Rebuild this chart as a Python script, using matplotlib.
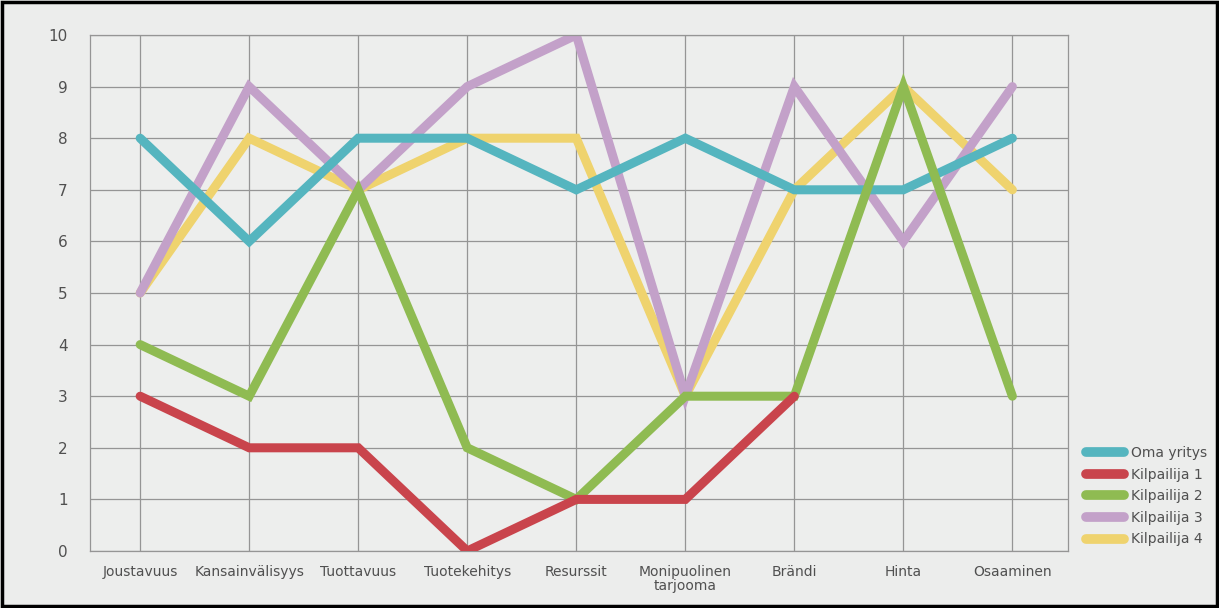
import numpy as np
import matplotlib.pyplot as plt
from matplotlib.patches import Rectangle

kategoriat = ["Joustavuus", "Kansainvälisyys", "Tuottavuus", "Tuotekehitys",
              "Resurssit", "Monipuolinen\ntarjooma", "Brändi", "Hinta", "Osaaminen"]

oma_yritys = [8, 6, 8, 8, 7, 8, 7, 7, 8]
kilpailija_1 = [3, 2, 2, 0, 1, 1, 3, np.nan, np.nan]
kilpailija_2 = [4, 3, 7, 2, 1, 3, 3, 9, 3]
kilpailija_3 = [5, 9, 7, 9, 10, 3, 9, 6, 9]
kilpailija_4 = [5, 8, 7, 8, 8, 3, 7, 9, 7]

nimet = ["Oma yritys", "Kilpailija 1", "Kilpailija 2", "Kilpailija 3", "Kilpailija 4"]
varit = ["#55b5bf", "#c9444c", "#8fbb52", "#c3a1c9", "#efd36e"]
sarjat = [oma_yritys, kilpailija_1, kilpailija_2, kilpailija_3, kilpailija_4]
# piirtojarjestys: keltainen alimpana, punainen ylimpana
jarjestys = {0: 3, 1: 5, 2: 4, 3: 2, 4: 1}

fig = plt.figure(figsize=(12.19, 6.08), dpi=100)
fig.patch.set_facecolor("#ecedec")
ax = fig.add_axes([90 / 1219, 1 - 551 / 608, (1068 - 90) / 1219, (551 - 35) / 608])
ax.set_facecolor("#edeeed")

x = np.arange(len(kategoriat))
viivat = []
for i, (nimi, arvot) in enumerate(zip(nimet, sarjat)):
    l, = ax.plot(x, arvot, color=varit[i], lw=6.5, solid_capstyle="round",
                 solid_joinstyle="miter", label=nimi, zorder=jarjestys[i])
    viivat.append(l)

ax.set_xlim(-0.46, 8.51)
ax.set_ylim(0, 10)
ax.set_xticks(x)
ax.set_xticklabels(kategoriat, fontsize=10, color="#505050", linespacing=1.0)
ax.set_yticks(range(0, 11))
ax.set_yticklabels([str(v) for v in range(0, 11)], fontsize=11, color="#505050")
ax.tick_params(axis="both", length=0)
ax.tick_params(axis="y", pad=16)
ax.tick_params(axis="x", pad=10)
ax.grid(True, color="#959595", lw=0.9, zorder=0)
for s in ax.spines.values():
    s.set_color("#959595")
    s.set_linewidth(0.9)
ax.set_axisbelow(True)

leg = fig.legend(handles=viivat, loc="lower left", bbox_to_anchor=(1080 / 1219, 1 - 552 / 608),
                 frameon=False, fontsize=10, handlelength=2.8, handletextpad=0.45,
                 labelspacing=0.55, borderaxespad=0)
for t in leg.get_texts():
    t.set_color("#505050")
for h in leg.legend_handles:
    h.set_linewidth(7)

fig.patches.append(Rectangle((0.002, 0.003), 0.996, 0.994, transform=fig.transFigure,
                             fill=False, edgecolor="black", lw=2.5))

fig.savefig("out.png", dpi=100, facecolor=fig.get_facecolor())
